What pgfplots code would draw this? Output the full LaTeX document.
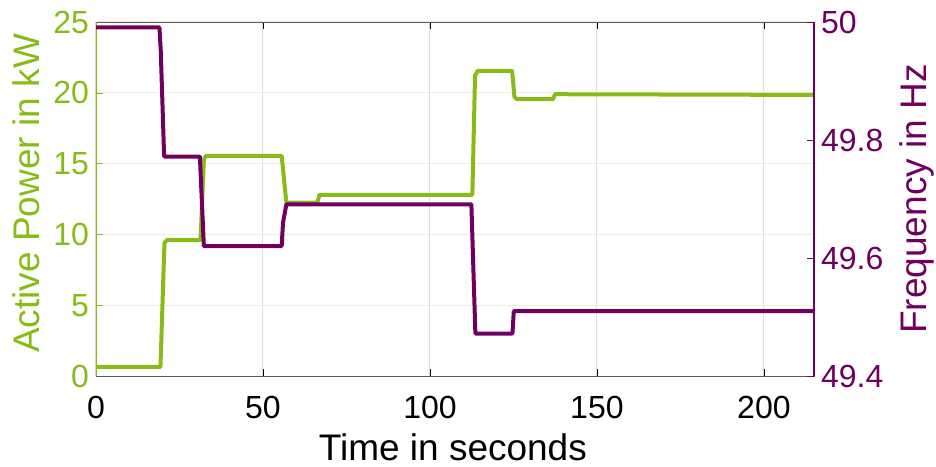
\documentclass[border=0pt]{standalone}
\usepackage{pgfplots}
\pgfplotsset{compat=1.18}
\usepackage{fontspec}
\setmainfont{Liberation Sans}
\definecolor{pgreen}{RGB}{137,187,24}
\definecolor{ppurple}{RGB}{112,0,96}
\definecolor{vgrid}{RGB}{222,222,222}
\definecolor{hgrid}{RGB}{236,240,218}
\begin{document}
\begin{tikzpicture}
\begin{axis}[
  at={(0,0)}, anchor=south west,
  scale only axis, width=359pt, height=177pt,
  xmin=0, xmax=215, ymin=0, ymax=25,
  xtick={0,50,100,150,200}, ytick={0,5,10,15,20,25},
  tick align=inside, major tick length=3.5pt,
  xtick pos=both, ytick pos=left,
  /pgf/number format/assume math mode=true,
  tick label style={font=\fontsize{16}{18}\selectfont},
  xticklabel style={anchor=base, yshift=-21pt},
  xlabel={Time in seconds}, ylabel={Active Power in kW},
  label style={font=\fontsize{18.5}{21}\selectfont},
  ylabel style={color=pgreen, at={(axis description cs:-0.078,0.516)}, anchor=base, rotate=0},
  xlabel style={at={(axis description cs:0.497,-0.240)}, anchor=base},
  yticklabel style={color=pgreen},
  ytick style={color=pgreen},
  xtick style={color=black, thin},
  axis line style={color=black!65},
  grid=major,
  x grid style={color=vgrid, line width=0.5pt},
  y grid style={color=hgrid, line width=0.5pt},
]
\addplot[pgreen, line width=2pt, line join=round] coordinates {
(0,0.65) (19.3,0.65) (20.5,9.4) (21.2,9.6) (31.3,9.6) (32.3,15.3) (32.9,15.55)
(55.6,15.55) (57,12.25) (66.3,12.25) (66.9,12.8) (112.7,12.8) (113.5,21.2)
(114.3,21.55) (124.6,21.55) (125.3,19.7) (126.1,19.55) (136.8,19.55)
(137.5,19.9) (215,19.85)};
\draw[pgreen, line width=0.8pt] (axis cs:0,0) -- (axis cs:0,25);
\end{axis}
\begin{axis}[
  at={(0,0)}, anchor=south west,
  scale only axis, width=359pt, height=177pt,
  xmin=0, xmax=215, ymin=49.4, ymax=50,
  axis x line=none, axis y line*=right,
  ytick={49.4,49.6,49.8,50},
  yticklabels={49.4,49.6,49.8,50},
  tick align=inside, major tick length=3.5pt,
  /pgf/number format/assume math mode=true,
  tick label style={font=\fontsize{16}{18}\selectfont},
  ylabel={Frequency in Hz},
  label style={font=\fontsize{18.5}{21}\selectfont},
  ylabel style={color=ppurple, at={(axis description cs:1.156,0.5)}, anchor=base, rotate=0},
  yticklabel style={color=ppurple},
  ytick style={color=ppurple},
  axis line style={color=ppurple, line width=0.6pt},
]
\addplot[ppurple, line width=2pt, line join=round] coordinates {
(0,49.991) (19,49.991) (19.4,49.95) (20.4,49.772) (31.1,49.772) (32.3,49.620)
(55.6,49.620) (56,49.66) (57,49.691) (112.4,49.691) (113.6,49.472)
(124.7,49.472) (125.1,49.510) (215,49.510)};
\end{axis}
\pgfresetboundingbox
\path (-48pt,-45pt) rectangle (420pt,188pt);
\end{tikzpicture}
\end{document}
